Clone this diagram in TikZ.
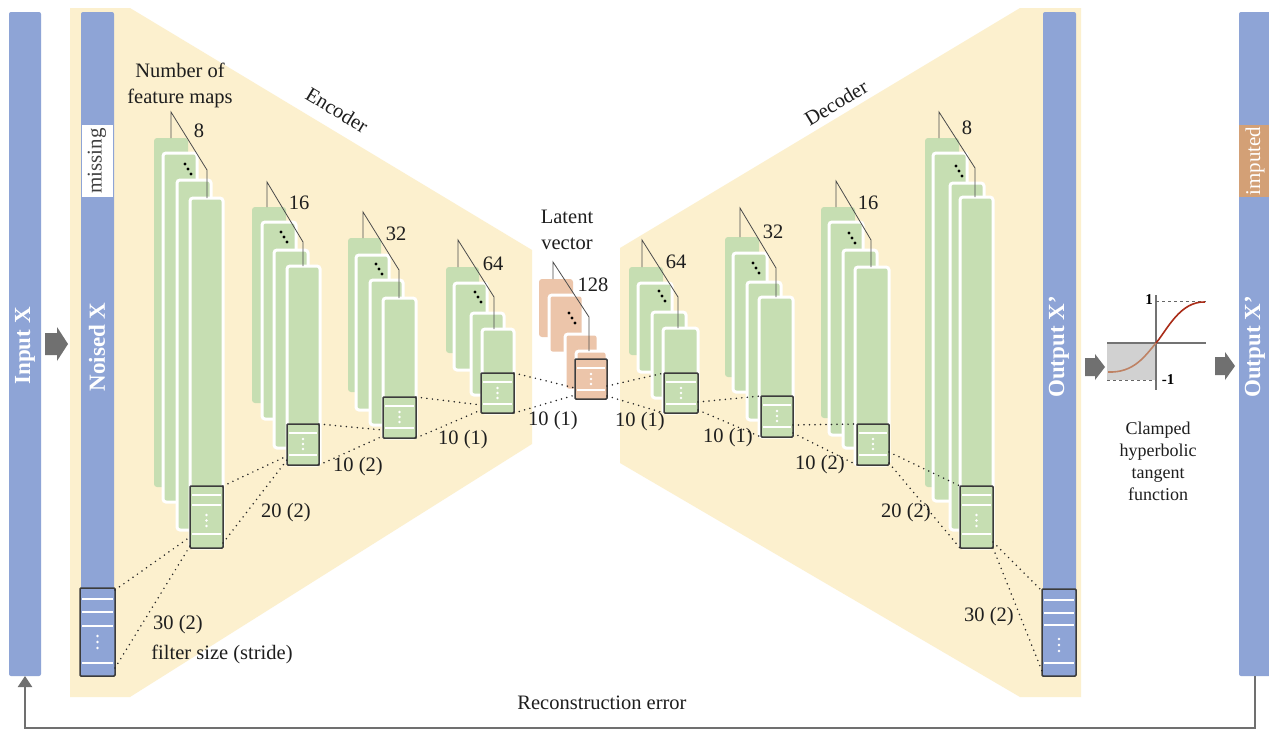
\documentclass[tikz,border=0pt]{standalone}
\usepackage{fontspec}
\setmainfont{Liberation Serif}
\usetikzlibrary{calc,arrows.meta}
\definecolor{barblue}{RGB}{142,164,214}
\definecolor{bgyellow}{RGB}{252,240,206}
\definecolor{fmgreen}{RGB}{198,222,178}
\definecolor{latpeach}{RGB}{236,197,170}
\definecolor{impcol}{RGB}{211,160,118}
\definecolor{arrgrey}{RGB}{112,112,112}
\definecolor{boxborder}{RGB}{60,60,60}
\definecolor{txt}{RGB}{30,30,30}
\definecolor{curvelow}{RGB}{190,130,100}
\definecolor{curvehigh}{RGB}{170,45,25}

\tikzset{
 bar/.style={fill=barblue, rounded corners=2pt, inner sep=0pt, outer sep=0pt, anchor=north west},
 bartext/.style={text=white, font=\fontsize{23}{23}\selectfont\bfseries, rotate=90, inner sep=0pt},
 fmB/.style={fill=#1, draw=white, line width=3pt, rounded corners=3pt},
 bracket/.style={draw=black!70, line width=0.8pt},
 filterbox/.style={draw=boxborder, line width=1.5pt, inner sep=0pt, outer sep=0pt, anchor=north west, rounded corners=1pt},
 wline/.style={draw=white, line width=2pt},
 conn/.style={draw=black!85, line width=1.7pt, dash pattern=on 0pt off 5.5pt, line cap=round},
 lbl/.style={font=\fontsize{20.5}{26}\selectfont, text=txt, inner sep=0pt},
 blockarr/.style={fill=arrgrey},
 fbline/.style={draw=arrgrey, line width=2pt},
}

\newcommand\fmrects[2]{%
  \foreach \xa/\ya/\xb/\yb [count=\i] in {#2} {%
    \ifnum\i=1 \fill[#1, rounded corners=3pt] (\xa,\ya) rectangle (\xb,\yb);
    \else \draw[fmB=#1] (\xa,\ya) rectangle (\xb,\yb); \fi
  }}
\newcommand\blackdots[2]{%
  \foreach \d in {0,1,2} \fill[black] (#1+3*\d,#2+5*\d) circle (1.7pt);}
\newcommand\boxinner[4]{%
  \foreach \yy in {#2} \draw[wline] ($(#1.north west)+(2,\yy)$) -- ($(#1.north east)+(-2,\yy)$);
  \foreach \d in {0,1,2} \fill[white] ($(#1.north)+(0,#3+#4*\d)$) circle (1.3pt);}

\begin{document}
\begin{tikzpicture}[x=1pt,y=-1pt]
\useasboundingbox (0,0) rectangle (1269,729);
\fill[white] (0,0) rectangle (1269,729);

% backgrounds
\fill[bgyellow] (70,8) -- (130,8) -- (532,250) -- (532,444) -- (130,697) -- (70,697) -- cycle;
\fill[bgyellow] (620,248) -- (1020,8) -- (1081,8) -- (1081,697) -- (1020,697) -- (620,463) -- cycle;

% bars
\node[bar, minimum width=32pt, minimum height=664pt] (inputbar) at (9,12) {};
\node[bartext] (inputlbl) at (25,346) {Input X};
\node[bar, minimum width=33pt, minimum height=664pt] (noisedbar) at (81,12) {};
\node[fill=white, inner sep=0pt, minimum width=31pt, minimum height=72pt, anchor=north west] (missbox) at (82,125) {};
\node[font=\fontsize{21}{21}\selectfont, text=black!75, rotate=90, inner sep=0pt] (misslbl) at (97,161) {missing};
\node[bartext] (noisedlbl) at (97,347) {Noised X};
\node[bar, minimum width=33pt, minimum height=664pt] (outbar) at (1043,12) {};
\node[bartext] (outlbl) at (1059,347) {Output X’};
\node[bar, minimum width=32pt, minimum height=664pt] (outbartwo) at (1239,12) {};
\node[fill=impcol, inner sep=0pt, minimum width=32pt, minimum height=72pt, anchor=north west] (impbox) at (1239,125) {};
\node[font=\fontsize{21}{21}\selectfont, text=white, rotate=90, inner sep=0pt] (implbl) at (1255,161) {imputed};
\node[bartext] (outlbltwo) at (1255,347) {Output X’};

% block arrows
\fill[blockarr] (45,333) -- (57,333) -- (57,327) -- (68,344) -- (57,361) -- (57,355) -- (45,355) -- cycle;
\fill[blockarr] (1085,358) -- (1095,358) -- (1095,354) -- (1105,367) -- (1095,380) -- (1095,376) -- (1085,376) -- cycle;
\fill[blockarr] (1215,357) -- (1225,357) -- (1225,352) -- (1235,366) -- (1225,380) -- (1225,375) -- (1215,375) -- cycle;

% feature map stacks
\fmrects{fmgreen}{154/138/188/487, 163/153/197/502, 177/180/211/530, 190/198/223/548}
\fmrects{fmgreen}{252/207/286/403, 262/222/296/419, 274/250/308/448, 287/266/320/465}
\fmrects{fmgreen}{348/238/381/392, 356/255/389/410, 370/280/403/425, 383/298/416/438}
\fmrects{fmgreen}{446/267/479/353, 454/283/487/370, 471/313/504/395, 482/329/514/413}
\fmrects{latpeach}{539/279/573/337, 549/295/583/353, 565/334/598/390, 576/351/607/399}
\fmrects{fmgreen}{629/267/663/355, 638/283/672/372, 652/312/686/398, 663/328/698/413}
\fmrects{fmgreen}{725/237/759/377, 733/253/767/392, 747/282/781/420, 759/297/793/437}
\fmrects{fmgreen}{821/207/855/418, 829/222/863/435, 843/250/877/448, 855/267/889/465}
\fmrects{fmgreen}{925/138/959/487, 933/153/967/501, 950/183/984/530, 960/197/993/548}

% brackets
\draw[bracket] (171,138) -- (171,112) -- (207,170) -- (207,198);
\draw[bracket] (267,207) -- (267,182) -- (303,242) -- (303,266);
\draw[bracket] (363,238) -- (363,212) -- (399,270) -- (399,298);
\draw[bracket] (458,267) -- (458,240) -- (494,297) -- (494,329);
\draw[bracket] (553,279) -- (553,262) -- (589,317) -- (589,351);
\draw[bracket] (642,267) -- (642,240) -- (678,297) -- (678,328);
\draw[bracket] (740,237) -- (740,208) -- (776,268) -- (776,297);
\draw[bracket] (836,207) -- (836,181) -- (871,240) -- (871,267);
\draw[bracket] (939,138) -- (939,112) -- (975,168) -- (975,197);

% dots
\blackdots{185}{164}
\blackdots{281}{232}
\blackdots{376}{264}
\blackdots{475}{292}
\blackdots{569}{313}
\blackdots{659}{291}
\blackdots{753}{263}
\blackdots{849}{233}
\blackdots{956}{166}

% count labels
\node[lbl] (nEa) at (199,131) {8};
\node[lbl] (nEb) at (299,203) {16};
\node[lbl] (nEc) at (396,234) {32};
\node[lbl] (nEd) at (493,264) {64};
\node[lbl] (nL) at (593,285) {128};
\node[lbl] (nDd) at (676,262) {64};
\node[lbl] (nDc) at (773,232) {32};
\node[lbl] (nDb) at (868,203) {16};
\node[lbl] (nDa) at (967,128) {8};

% filter boxes
\node[filterbox, fill=barblue, minimum width=35pt, minimum height=88pt] (boxNX) at (80,588) {};
\boxinner{boxNX}{11,24,38,75}{48}{6}
\node[filterbox, fill=fmgreen, minimum width=33pt, minimum height=62pt] (boxEa) at (190,486) {};
\boxinner{boxEa}{9,19,48}{29}{5.5}
\node[filterbox, fill=fmgreen, minimum width=32pt, minimum height=41pt] (boxEb) at (287,424) {};
\boxinner{boxEb}{9,31}{15}{5}
\node[filterbox, fill=fmgreen, minimum width=33pt, minimum height=41pt] (boxEc) at (383,397) {};
\boxinner{boxEc}{9,31}{15}{5}
\node[filterbox, fill=fmgreen, minimum width=33pt, minimum height=40pt] (boxEd) at (481,373) {};
\boxinner{boxEd}{9,31}{15}{5}
\node[filterbox, fill=latpeach, minimum width=32pt, minimum height=40pt] (boxL) at (575,359) {};
\boxinner{boxL}{9,31}{15}{5}
\node[filterbox, fill=fmgreen, minimum width=34pt, minimum height=40pt] (boxDd) at (664,373) {};
\boxinner{boxDd}{9,31}{15}{5}
\node[filterbox, fill=fmgreen, minimum width=32pt, minimum height=41pt] (boxDc) at (761,396) {};
\boxinner{boxDc}{9,31}{15}{5}
\node[filterbox, fill=fmgreen, minimum width=32pt, minimum height=41pt] (boxDb) at (857,424) {};
\boxinner{boxDb}{9,31}{15}{5}
\node[filterbox, fill=fmgreen, minimum width=33pt, minimum height=62pt] (boxDa) at (960,486) {};
\boxinner{boxDa}{9,19,48}{29}{5.5}
\node[filterbox, fill=barblue, minimum width=34pt, minimum height=87pt] (boxOut) at (1042,589) {};
\boxinner{boxOut}{11,24,36,74}{50}{6}

% dotted connections - encoder
\draw[conn] ([yshift=-2pt]boxNX.north east) -- ([yshift=11pt]boxEa.south west);
\draw[conn] ([yshift=8pt]boxNX.south east) -- ([yshift=2pt]boxEa.south west);
\draw[conn] (boxEa.north east) -- ([yshift=9pt]boxEb.south west);
\draw[conn] ([yshift=5pt]boxEa.south east) -- ([yshift=5pt]boxEb.south west);
\draw[conn] (boxEb.north east) -- ([yshift=8pt]boxEc.south west);
\draw[conn] (boxEb.south east) -- ([yshift=2pt]boxEc.south west);
\draw[conn] (boxEc.north east) -- ([yshift=8pt]boxEd.south west);
\draw[conn] (boxEc.south east) -- ([yshift=3pt]boxEd.south west);
\draw[conn] (boxEd.north east) -- ([yshift=11pt]boxL.south west);
\draw[conn] (boxEd.south east) -- ([yshift=4pt]boxL.south west);
% decoder
\draw[conn] ([yshift=13pt]boxL.south east) -- (boxDd.north west);
\draw[conn] ([yshift=3pt]boxL.south east) -- (boxDd.south west);
\draw[conn] ([yshift=11pt]boxDd.south east) -- (boxDc.north west);
\draw[conn] ([yshift=3pt]boxDd.south east) -- (boxDc.south west);
\draw[conn] ([yshift=12pt]boxDc.south east) -- (boxDb.north west);
\draw[conn] ([yshift=4pt]boxDc.south east) -- (boxDb.south west);
\draw[conn] ([yshift=13pt]boxDb.south east) -- (boxDa.north west);
\draw[conn] ([yshift=2pt]boxDb.south east) -- (boxDa.south west);
\draw[conn] ([yshift=6pt]boxDa.south east) -- ([yshift=-2pt]boxOut.north west);
\draw[conn] (boxDa.south east) -- ([yshift=5pt]boxOut.south west);

% filter labels
\node[lbl] (fa) at (178,625) {30 (2)};
\node[lbl] (fsz) at (222,654) {filter size (stride)};
\node[lbl] (fb) at (286,513) {20 (2)};
\node[lbl] (fc) at (358,467) {10 (2)};
\node[lbl] (fd) at (463,440) {10 (1)};
\node[lbl] (fe) at (553,421) {10 (1)};
\node[lbl] (ff) at (640,422) {10 (1)};
\node[lbl] (fg) at (728,438) {10 (1)};
\node[lbl] (fh) at (820,465) {10 (2)};
\node[lbl] (fi) at (906,513) {20 (2)};
\node[lbl] (fj) at (989,617) {30 (2)};

% titles
\node[lbl, align=center] (nfm) at (180,85) {Number of\\feature maps};
\node[lbl, align=center] (latlbl) at (567,230) {Latent\\vector};
\node[lbl, rotate=-31] (enclbl) at (337,110) {Encoder};
\node[lbl, rotate=31] (declbl) at (836,103) {Decoder};

% tanh plot
\fill[black!18] (1107,343) rectangle (1156,380);
\draw[black!55, line width=1.2pt] (1107,343) -- (1206,343);
\draw[black!55, line width=1.2pt] (1156,295) -- (1156,390);
\draw[black!60, dashed, line width=0.7pt] (1156,301) -- (1206,301);
\draw[black!60, dashed, line width=0.7pt] (1107,380) -- (1156,380);
\draw[curvelow, line width=1.6pt] (1108,372) .. controls (1134,373) and (1145,356) .. (1156,343);
\draw[curvehigh, line width=1.6pt] (1156,343) .. controls (1167,330) and (1180,301) .. (1205,302);
\node[font=\fontsize{15}{15}\selectfont\bfseries, inner sep=0pt] (one) at (1149,300) {1};
\node[font=\fontsize{15}{15}\selectfont\bfseries, inner sep=0pt] (mone) at (1168,380) {-1};
\node[font=\fontsize{18}{22}\selectfont, text=txt, align=center, inner sep=0pt] (tanhlbl) at (1158,461) {Clamped\\hyperbolic\\tangent\\function};

% feedback
\draw[fbline, -{Triangle[width=14pt,length=11pt]}] (outbartwo.south) -- ++(0,52) -| (inputbar.south);
\node[lbl] (recon) at (602,703) {Reconstruction error};
\end{tikzpicture}
\end{document}
